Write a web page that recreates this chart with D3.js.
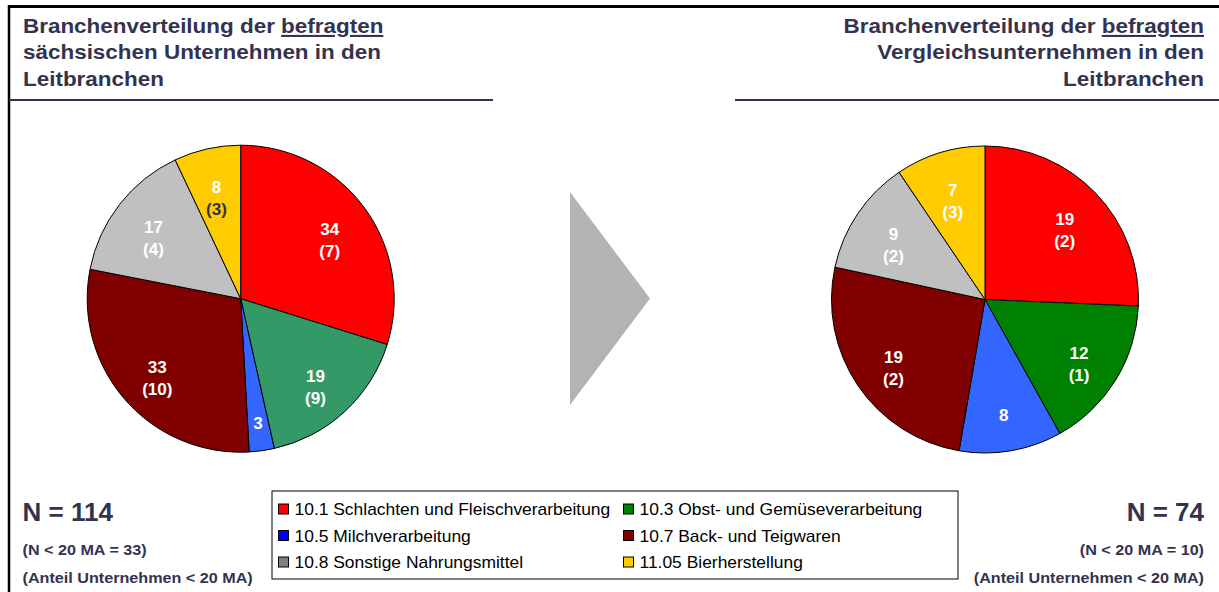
<!DOCTYPE html>
<html><head><meta charset="utf-8">
<script src="https://cdn.jsdelivr.net/npm/d3@7"></script>
<style>
body{margin:0;background:#fff}
svg{display:block}
text{font-family:"Liberation Sans",Arial,Helvetica,sans-serif}
</style>
</head><body>
<svg id="c" width="1219" height="592"></svg>
<script>
// ---------- data ----------
const categories = [
  "10.1 Schlachten und Fleischverarbeitung",
  "10.3 Obst- und Gemüseverarbeitung",
  "10.5 Milchverarbeitung",
  "10.7 Back- und Teigwaren",
  "10.8 Sonstige Nahrungsmittel",
  "11.05 Bierherstellung"
];
const saxonyValues  = [34, 19, 3, 33, 17, 8];
const saxonySmall   = [7, 9, null, 10, 4, 3];
const compareValues = [19, 12, 8, 19, 9, 7];
const compareSmall  = [2, 1, null, 2, 2, 3];
const saxonyColors  = ["#ff0000", "#339966", "#3366ff", "#800000", "#c0c0c0", "#ffcc00"];
const compareColors = ["#ff0000", "#008000", "#3366ff", "#800000", "#c0c0c0", "#ffcc00"];
const legendColors  = ["#ff0000", "#008000", "#0000ff", "#800000", "#808080", "#ffcc00"];
const leftTitle  = ["Branchenverteilung der ", "befragten", "sächsischen Unternehmen in den", "Leitbranchen"];
const rightTitle = ["Branchenverteilung der ", "befragten", "Vergleichsunternehmen in den", "Leitbranchen"];
const leftN  = ["N = 114", "(N < 20 MA = 33)", "(Anteil Unternehmen < 20 MA)"];
const rightN = ["N = 74", "(N < 20 MA = 10)", "(Anteil Unternehmen < 20 MA)"];

// ---------- drawing ----------
const svg = d3.select("#c");
const titleColor = "#333350";

// frame
svg.append("line").attr("x1", 8).attr("y1", 6.5).attr("x2", 1219).attr("y2", 6.5)
  .attr("stroke", "#000").attr("stroke-width", 3);
svg.append("line").attr("x1", 9).attr("y1", 5).attr("x2", 9).attr("y2", 592)
  .attr("stroke", "#000").attr("stroke-width", 2.5);

// horizontally stretched text group
function sg(x, y, sx) {
  return svg.append("g").attr("transform", `translate(${x},${y}) scale(${sx},1)`);
}

// titles
function title(lines, x, anchor) {
  const t = sg(x, 0, 1.085).append("text").attr("font-size", 20.7).attr("font-weight", "bold")
    .attr("fill", titleColor).attr("text-anchor", anchor);
  const l1 = t.append("tspan").attr("x", 0).attr("y", 33);
  l1.append("tspan").text(lines[0]);
  l1.append("tspan").attr("text-decoration", "underline").text(lines[1]);
  t.append("tspan").attr("x", 0).attr("y", 59.5).text(lines[2]);
  t.append("tspan").attr("x", 0).attr("y", 86).text(lines[3]);
}
title(leftTitle, 23, "start");
title(rightTitle, 1204, "end");

svg.append("line").attr("x1", 9).attr("x2", 493).attr("y1", 100).attr("y2", 100)
  .attr("stroke", titleColor).attr("stroke-width", 2);
svg.append("line").attr("x1", 735).attr("x2", 1219).attr("y1", 100).attr("y2", 100)
  .attr("stroke", titleColor).attr("stroke-width", 2);

// pies
const R = 153.5;
const pie = d3.pie().sort(null).value(d => d);
const arc = d3.arc().innerRadius(0).outerRadius(R);
const labelArc = d3.arc().innerRadius(R * 0.72).outerRadius(R * 0.72);
const smallArc = d3.arc().innerRadius(R * 0.82).outerRadius(R * 0.82);

function drawPie(cx, cy, values, small, colors, darkCountIdx) {
  const g = svg.append("g").attr("transform", `translate(${cx},${cy})`);
  const arcs = pie(values);
  g.selectAll("path").data(arcs).join("path")
    .attr("d", arc)
    .attr("fill", (d, i) => colors[i])
    .attr("stroke", "#000").attr("stroke-width", 1);
  const lg = g.selectAll("g.lab").data(arcs).join("g").attr("class", "lab")
    .attr("transform", d => {
      const share = (d.endAngle - d.startAngle) / (2 * Math.PI);
      const c = share < 0.06 ? smallArc.centroid(d) : labelArc.centroid(d);
      return `translate(${c[0]},${c[1] + (share < 0.06 ? 0 : 7)}) scale(1.07,1)`;
    });
  lg.each(function(d, i) {
    const s = d3.select(this);
    const two = small[i] !== null;
    s.append("text").attr("text-anchor", "middle").attr("font-size", 16).attr("font-weight", "bold")
      .attr("fill", "#fff").attr("y", two ? -5 : 6).text(values[i]);
    if (two) {
      s.append("text").attr("text-anchor", "middle").attr("font-size", 16).attr("font-weight", "bold")
        .attr("fill", i === darkCountIdx ? "#333350" : "#fff").attr("y", 17).text(`(${small[i]})`);
    }
  });
}
drawPie(240.7, 298.7, saxonyValues, saxonySmall, saxonyColors, 5);
drawPie(985, 299.5, compareValues, compareSmall, compareColors, -1);

// arrow
svg.append("path").attr("d", d3.line()([[570, 192], [650, 298.5], [570, 405]]) + "Z")
  .attr("fill", "#b3b3b3");

// N texts
function nBlock(lines, x, anchor) {
  sg(x, 0, 1.02).append("text").attr("y", 521).attr("font-size", 25.5).attr("font-weight", "bold")
    .attr("fill", titleColor).attr("text-anchor", anchor).text(lines[0]);
  const g = sg(x, 0, 1.1).attr("fill", titleColor).attr("font-weight", "bold").attr("text-anchor", anchor);
  g.append("text").attr("y", 555).attr("font-size", 14.7).text(lines[1]);
  g.append("text").attr("y", 583).attr("font-size", 14.7).text(lines[2]);
}
nBlock(leftN, 22.5, "start");
nBlock(rightN, 1204, "end");

// legend
const lgX = 272, lgY = 491, lgW = 686, lgH = 88;
svg.append("rect").attr("x", lgX).attr("y", lgY).attr("width", lgW).attr("height", lgH)
  .attr("fill", "#fff").attr("stroke", "#000").attr("stroke-width", 1);
const items = svg.selectAll("g.li").data(categories).join("g").attr("class", "li")
  .attr("transform", (d, i) => `translate(${lgX + 6.5 + (i % 2) * 345},${lgY + 18 + Math.floor(i / 2) * 26.5})`);
items.append("rect").attr("x", 0).attr("y", -5).attr("width", 10).attr("height", 10)
  .attr("fill", (d, i) => legendColors[i]).attr("stroke", "#000").attr("stroke-width", 1);
items.append("g").attr("transform", "translate(16,0) scale(1.09,1)")
  .append("text").attr("y", 6).attr("font-size", 16).attr("fill", "#000").text(d => d);
</script>
</body></html>
